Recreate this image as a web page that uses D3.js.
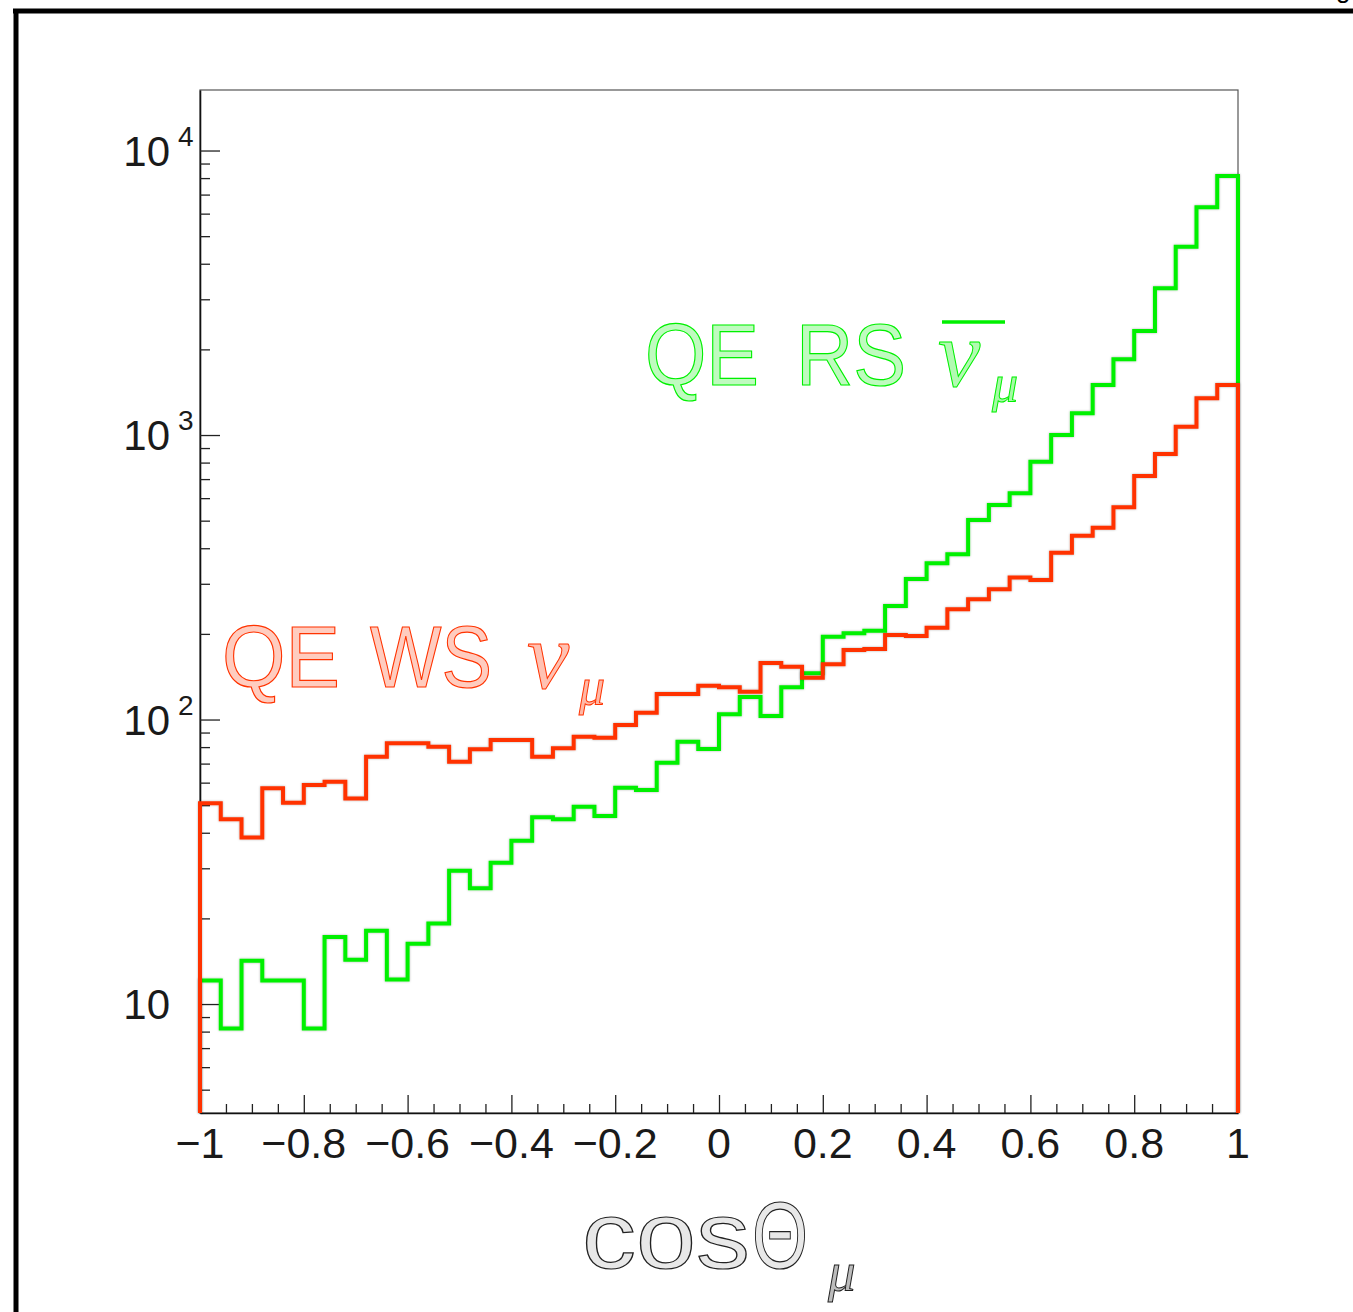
<!DOCTYPE html>
<html><head><meta charset="utf-8">
<script src="https://cdn.jsdelivr.net/npm/d3@7"></script>
<style>body{margin:0;background:#fff}svg{display:block}</style>
</head><body>
<svg id="c" width="1353" height="1312"></svg>
<script>
// ---- data (50 bins of cos theta from -1 to 1) ----
const nBins = 50;
const xMin = -1, xMax = 1;
const wsNuMu = [50.8, 44.6, 38.5, 57.3, 51.0, 58.9, 60.4, 52.8, 74.0, 82.5,
                82.5, 80.3, 71.1, 78.6, 84.7, 84.7, 74.0, 79.2, 87.0, 86.3,
                95.7, 105.7, 122.9, 122.9, 131.5, 129.8, 125.2, 158.0, 153.3, 140.3,
                156.3, 175.5, 176.9, 198.2, 196.6, 210.2, 244.0, 264.6, 286.8, 315.6,
                309.3, 385.8, 442.6, 472.3, 557.0, 717.7, 857.6, 1069.6, 1345.8, 1498.5];
const rsNuMuBar = [12.1, 8.2, 14.2, 12.1, 12.1, 8.2, 17.2, 14.3, 18.1, 12.2,
                   16.3, 19.2, 29.4, 25.5, 31.4, 37.5, 45.3, 44.6, 49.4, 45.8,
                   57.6, 56.5, 70.5, 83.6, 78.8, 104.3, 120.0, 102.9, 129.8, 145.4,
                   195.4, 200.9, 205.2, 250.6, 311.8, 354.0, 380.8, 502.5, 567.5, 624.0,
                   805.8, 1000, 1192, 1498, 1845, 2321, 3279, 4590, 6317, 8136];
const xTickValues = [-1, -0.8, -0.6, -0.4, -0.2, 0, 0.2, 0.4, 0.6, 0.8, 1];
const xTickLabels = ["\u22121", "\u22120.8", "\u22120.6", "\u22120.4", "\u22120.2", "0", "0.2", "0.4", "0.6", "0.8", "1"];
const yTickValues = [10, 100, 1000, 10000];
const yTickBase = ["10", "10", "10", "10"];
const yTickExp = ["", "2", "3", "4"];
const yDomain = [4.14, 16320];

const GREEN = "#00f000", RED = "#ff3300";

const svg = d3.select("#c");
const L = 200, R = 1238, T = 90, B = 1113;
const x = d3.scaleLinear().domain([xMin, xMax]).range([L, R]);
const y = d3.scaleLog().domain(yDomain).range([B, T]);

const defs = svg.append("defs");
const f = defs.append("filter").attr("id", "sh").attr("filterUnits", "userSpaceOnUse")
  .attr("x", 0).attr("y", 0).attr("width", 1353).attr("height", 1312);
f.append("feGaussianBlur").attr("in", "SourceAlpha").attr("stdDeviation", 1.3).attr("result", "b");
f.append("feFlood").attr("flood-color", "#000").attr("flood-opacity", 0.3);
f.append("feComposite").attr("in2", "b").attr("operator", "in").attr("result", "s");
const fm = f.append("feMerge");
fm.append("feMergeNode").attr("in", "s");
fm.append("feMergeNode").attr("in", "SourceGraphic");

// outer pad frame
svg.append("line").attr("x1", 13).attr("x2", 1353).attr("y1", 11).attr("y2", 11)
  .attr("stroke", "#000").attr("stroke-width", 5);
svg.append("line").attr("x1", 16).attr("x2", 16).attr("y1", 9).attr("y2", 1312)
  .attr("stroke", "#000").attr("stroke-width", 5);
svg.append("text").attr("x", 1336).attr("y", -2).attr("font-family", "Liberation Sans")
  .attr("font-size", 26).attr("fill", "#000").text("g");

// plot frame
svg.append("rect").attr("x", L).attr("y", T).attr("width", R - L).attr("height", B - T)
  .attr("fill", "none").attr("stroke", "#555").attr("stroke-width", 1.2);

// y axis
const yMinor = y.ticks().filter(v => !yTickValues.includes(v) && v >= yDomain[0] && v <= yDomain[1]);
svg.append("g").attr("transform", `translate(${L},0)`)
  .call(d3.axisRight(y).tickValues(yTickValues).tickSize(20).tickSizeOuter(0).tickFormat(""));
svg.append("g").attr("transform", `translate(${L},0)`)
  .call(d3.axisRight(y).tickValues(yMinor).tickSize(10).tickSizeOuter(0).tickFormat(""))
  .select(".domain").remove();

// x axis
const xMinor = d3.range(0, 41).map(i => xMin + i * 0.05)
  .filter(v => !xTickValues.some(t => Math.abs(t - v) < 1e-6));
svg.append("g").attr("transform", `translate(0,${B})`)
  .call(d3.axisTop(x).tickValues(xTickValues).tickSize(18).tickSizeOuter(0).tickFormat(""));
svg.append("g").attr("transform", `translate(0,${B})`)
  .call(d3.axisTop(x).tickValues(xMinor).tickSize(9).tickSizeOuter(0).tickFormat(""))
  .select(".domain").remove();
svg.selectAll(".tick line").attr("stroke", "#222").attr("stroke-width", 1.3);
svg.selectAll(".domain").attr("stroke", "#111").attr("stroke-width", 1.6);

// x tick labels
svg.append("g").selectAll("text").data(xTickValues).join("text")
  .attr("x", d => x(d)).attr("y", B + 45).attr("text-anchor", "middle")
  .attr("font-family", "Liberation Sans").attr("font-size", 43).attr("fill", "#1a1a1a")
  .text((d, i) => xTickLabels[i]);

// y tick labels
const yl = svg.append("g").selectAll("g").data(yTickValues).join("g");
yl.append("text").attr("x", 170).attr("y", d => y(d) + 15).attr("text-anchor", "end")
  .attr("font-family", "Liberation Sans").attr("font-size", 42).attr("fill", "#1a1a1a")
  .text((d, i) => yTickBase[i]);
yl.append("text").attr("x", 178).attr("y", d => y(d) - 5)
  .attr("font-family", "Liberation Sans").attr("font-size", 28).attr("fill", "#1a1a1a")
  .text((d, i) => yTickExp[i]);

// histograms
const edges = d3.range(nBins + 1).map(i => xMin + i * (xMax - xMin) / nBins);
function histPath(vals) {
  const floor = yDomain[0];
  const pts = [[xMin, floor]];
  vals.forEach((v, i) => pts.push([edges[i], v]));
  pts.push([xMax, vals[vals.length - 1]]);
  pts.push([xMax, floor]);
  return d3.line().x(d => x(d[0])).y(d => y(d[1])).curve(d3.curveStepAfter)(pts);
}
svg.append("path").attr("d", histPath(rsNuMuBar)).attr("fill", "none")
  .attr("stroke", GREEN).attr("stroke-width", 4).attr("stroke-linejoin", "miter")
  .attr("filter", "url(#sh)");
svg.append("path").attr("d", histPath(wsNuMu)).attr("fill", "none")
  .attr("stroke", RED).attr("stroke-width", 4).attr("stroke-linejoin", "miter")
  .attr("filter", "url(#sh)");

// outline text helper
function otext(str, xx, yy, size, color, o = {}) {
  const t = svg.append("text").attr("x", xx).attr("y", yy)
    .attr("font-family", o.family || "Liberation Sans").attr("font-size", size)
    .attr("font-style", o.italic ? "italic" : "normal")
    .attr("fill", color).attr("fill-opacity", o.fo == null ? 0.25 : o.fo)
    .attr("stroke", color).attr("stroke-width", o.sw || 1.2)
    .text(str);
  if (o.len) t.attr("textLength", o.len).attr("lengthAdjust", "spacingAndGlyphs");
  return t;
}
const serif = "Liberation Serif";
// green annotation
otext("QE", 645, 385, 87, GREEN, {len: 114});
otext("RS", 796, 385, 87, GREEN, {len: 110});
otext("\u03bd", 938, 386, 95, GREEN, {italic: true, family: serif, fo: 0.3, sw: 1});
svg.append("line").attr("x1", 942).attr("x2", 1005).attr("y1", 322).attr("y2", 322)
  .attr("stroke", GREEN).attr("stroke-width", 3.5);
otext("\u03bc", 992, 401, 52, GREEN, {italic: true, family: serif, fo: 0.35, sw: 1});
// red annotation
otext("QE", 222, 687, 87, RED, {len: 118});
otext("WS", 370, 687, 87, RED, {len: 122});
otext("\u03bd", 527, 688, 95, RED, {italic: true, family: serif, fo: 0.3, sw: 1});
otext("\u03bc", 579, 704, 52, RED, {italic: true, family: serif, fo: 0.35, sw: 1});
// axis title
const title = svg.append("text").attr("y", 1268)
  .attr("font-family", "Liberation Sans").attr("font-size", 95)
  .attr("fill", "#222").attr("fill-opacity", 0.1).attr("stroke", "#222").attr("stroke-width", 1.2);
title.append("tspan").attr("x", 582).attr("textLength", 168).attr("lengthAdjust", "spacingAndGlyphs").text("cos");
title.append("tspan").attr("x", 752).attr("textLength", 56).attr("lengthAdjust", "spacingAndGlyphs").text("\u0398");
title.append("tspan").attr("x", 828).attr("dy", 22).attr("font-size", 55)
  .attr("font-family", serif).attr("font-style", "italic").attr("fill-opacity", 0.3)
  .attr("stroke-width", 1).text("\u03bc");
</script>
</body></html>
